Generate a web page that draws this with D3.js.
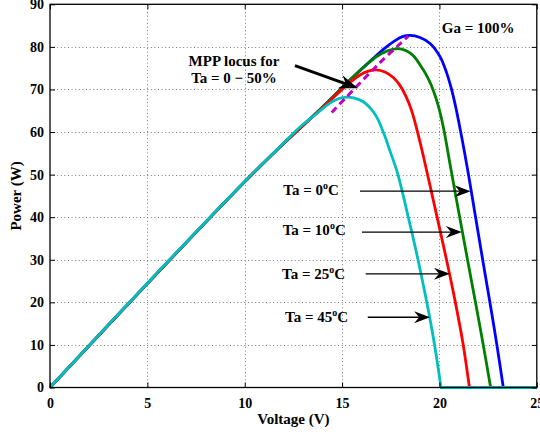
<!DOCTYPE html>
<html>
<head>
<meta charset="utf-8">
<script src="https://cdn.jsdelivr.net/npm/d3@7"></script>
<style>
  body { margin: 0; background: #fff; }
  svg { display: block; font-family: "Liberation Serif", "Times New Roman", serif; font-weight: bold; }
</style>
</head>
<body>
<div id="chart"></div>
<script>
// P-V curves, one pair of arrays per ambient temperature
var ta0V  = [0, 5, 10, 12, 14, 15.4, 16.6, 17.2, 17.7, 18.1, 18.49, 19.0, 19.52, 20.03, 20.37, 20.63, 20.83, 21.0, 21.2, 21.4, 21.62, 21.82, 22.22, 22.6, 22.95, 23.28];
var ta0P  = [0, 24.4, 48.3, 57.3, 65.9, 72.2, 77.3, 79.7, 81.4, 82.4, 82.7, 82.2, 80.8, 77.7, 73.9, 69.9, 66.0, 62.2, 57.4, 52.4, 46.5, 41.0, 30.0, 19.8, 10.0, 0];

var ta10V = [0, 5, 10, 12, 14, 15.4, 16.2, 16.8, 17.3, 17.85, 18.3, 18.66, 19.17, 19.45, 19.7, 19.95, 20.2, 20.6, 21.0, 21.43, 21.85, 22.25, 22.63];
var ta10P = [0, 24.4, 48.3, 57.3, 65.9, 72.2, 75.6, 77.8, 79.0, 79.6, 79.1, 77.9, 74.6, 72.3, 69.6, 66.0, 61.2, 51.0, 41.0, 30.3, 20.0, 10.0, 0];

var ta25V = [0, 5, 10, 12, 14, 14.9, 15.5, 15.92, 16.35, 16.75, 17.2, 17.63, 17.98, 18.3, 18.58, 18.83, 19.1, 19.35, 19.85, 20.35, 20.8, 21.2, 21.54];
var ta25P = [0, 24.45, 48.35, 57.35, 65.7, 69.6, 72.0, 73.4, 74.3, 74.6, 74.1, 72.8, 70.9, 68.2, 64.9, 60.8, 55.8, 50.8, 40.6, 30.3, 20.4, 10.6, 0];

var ta45V = [0, 5, 10, 12, 12.84, 13.5, 14.0, 14.55, 15.0, 15.24, 15.6, 16.09, 16.45, 16.78, 17.2, 17.38, 17.85, 18.4, 18.9, 19.35, 19.75, 20.08];
var ta45P = [0, 24.5, 48.4, 57.4, 61.2, 63.6, 65.5, 67.3, 68.1, 68.2, 68.0, 67.1, 65.6, 63.5, 59.0, 56.6, 50.3, 40, 30, 20, 10, 0];

// maximum power point locus (dashed)
var mppV = [14.47, 16.95, 18.4];
var mppP = [64.6, 76.3, 82.5];

var xTicks = [0, 5, 10, 15, 20, 25];
var yTicks = [0, 10, 20, 30, 40, 50, 60, 70, 80, 90];

var curves = [
  { v: ta0V,  p: ta0P,  color: "#0000ff" },
  { v: ta10V, p: ta10P, color: "#008000" },
  { v: ta25V, p: ta25P, color: "#ff0000" },
  { v: ta45V, p: ta45P, color: "#00bfbf" }
];

var width = 540, height = 432;
var margin = {top: 4.3, right: 3.2, bottom: 44.5, left: 50};

var svg = d3.select("#chart").append("svg")
    .attr("width", width)
    .attr("height", height);

var x = d3.scaleLinear().domain([0, 25]).range([margin.left, width - margin.right]);
var y = d3.scaleLinear().domain([0, 90]).range([height - margin.bottom, margin.top]);

var x0 = x.range()[0], x1 = x.range()[1], y0 = y.range()[0], y1 = y.range()[1];

// dotted grid
var grid = svg.append("g").attr("class", "grid")
    .attr("stroke", "#7a7a7a").attr("stroke-width", 1).attr("stroke-dasharray", "1,2.6");
grid.selectAll("line.gx").data(xTicks.slice(1, -1)).enter().append("line")
    .attr("x1", function(d) { return Math.round(x(d)) + 0.5; })
    .attr("x2", function(d) { return Math.round(x(d)) + 0.5; })
    .attr("y1", y0).attr("y2", y1);
grid.selectAll("line.gy").data(yTicks.slice(1, -1)).enter().append("line")
    .attr("y1", function(d) { return Math.round(y(d)) + 0.5; })
    .attr("y2", function(d) { return Math.round(y(d)) + 0.5; })
    .attr("x1", x0).attr("x2", x1);

// curves
var line = d3.line()
    .x(function(d) { return x(d[0]); })
    .y(function(d) { return y(d[1]); })
    .curve(d3.curveCatmullRom.alpha(0.5));

curves.forEach(function(c) {
  var pts = c.v.map(function(v, i) { return [v, c.p[i]]; });
  svg.append("path")
      .attr("d", line(pts) + "L" + x(25) + "," + y(0))
      .attr("fill", "none")
      .attr("stroke", c.color)
      .attr("stroke-width", 2.8)
      .attr("stroke-linejoin", "round");
});

// MPP locus
svg.append("path")
    .attr("d", line(mppV.map(function(v, i) { return [v, mppP[i]]; })))
    .attr("fill", "none")
    .attr("stroke", "#bf00bf")
    .attr("stroke-width", 3)
    .attr("stroke-dasharray", "7,4.5");

// axes: MATLAB style box with inward ticks
function styleAxis(g) {
  g.select(".domain").remove();
  g.selectAll(".tick line").attr("stroke", "#000");
  g.selectAll(".tick text").attr("fill", "#000").style("font-size", "14px")
    .style("font-family", "Liberation Serif").style("font-weight", "bold");
}
svg.append("g").attr("transform", "translate(0," + y0 + ")")
    .call(d3.axisBottom(x).tickValues(xTicks).tickSize(-5).tickPadding(11).tickFormat(d3.format("d")))
    .call(styleAxis);
svg.append("g").attr("transform", "translate(0," + y1 + ")")
    .call(d3.axisTop(x).tickValues(xTicks).tickSize(-5).tickFormat(""))
    .call(styleAxis);
svg.append("g").attr("transform", "translate(" + x0 + ",0)")
    .call(d3.axisLeft(y).tickValues(yTicks).tickSize(-5).tickPadding(6).tickFormat(d3.format("d")))
    .call(styleAxis);
svg.append("g").attr("transform", "translate(" + x1 + ",0)")
    .call(d3.axisRight(y).tickValues(yTicks).tickSize(-5).tickFormat(""))
    .call(styleAxis);

svg.append("rect")
    .attr("x", x0).attr("y", y1)
    .attr("width", x1 - x0).attr("height", y0 - y1)
    .attr("fill", "none").attr("stroke", "#000").attr("stroke-width", 1.3);

// axis titles
svg.append("text")
    .attr("x", (x0 + x1) / 2).attr("y", 424)
    .attr("text-anchor", "middle").style("font-size", "15px")
    .text("Voltage (V)");
svg.append("text")
    .attr("transform", "translate(21," + ((y0 + y1) / 2) + ") rotate(-90)")
    .attr("text-anchor", "middle").style("font-size", "15px")
    .text("Power (W)");

// annotations
function arrow(from, to, lw, L, W) {
  var ax = x(from[0]), ay = y(from[1]), bx = x(to[0]), by = y(to[1]);
  var ang = Math.atan2(by - ay, bx - ax);
  var cos = Math.cos(ang), sin = Math.sin(ang);
  function pt(u, v) { return [bx + u * cos - v * sin, by + u * sin + v * cos]; }
  var notch = pt(-0.68 * L, 0);
  svg.append("line")
      .attr("x1", ax).attr("y1", ay).attr("x2", notch[0]).attr("y2", notch[1])
      .attr("stroke", "#000").attr("stroke-width", lw);
  svg.append("path")
      .attr("d", "M" + [pt(0, 0), pt(-L, -W / 2), notch, pt(-L, W / 2)].join("L") + "Z")
      .attr("fill", "#000");
}

svg.append("text").attr("x", x(20.12)).attr("y", y(83.2))
    .style("font-size", "15px").text("Ga = 100%");

var mppText = svg.append("text").attr("text-anchor", "middle").style("font-size", "15px");
mppText.append("tspan").attr("x", x(9.45)).attr("y", y(75.5)).text("MPP locus for");
mppText.append("tspan").attr("x", x(9.45)).attr("y", y(71.4)).text("Ta = 0 \u2212 50%");
arrow([12.58, 75.6], [15.82, 70.3], 3, 19, 14);

var taLabels = [
  { t: "0",  tx: 11.98, ty: 45.2, from: [15.92, 46.1], to: [21.6, 46.1] },
  { t: "10", tx: 11.95, ty: 35.8, from: [16.02, 36.5], to: [21.15, 36.5] },
  { t: "25", tx: 11.92, ty: 25.6, from: [16.21, 26.7], to: [20.54, 26.7] },
  { t: "45", tx: 12.07, ty: 15.4, from: [16.32, 16.5], to: [19.52, 16.5] }
];
taLabels.forEach(function(d) {
  var t = svg.append("text").attr("x", x(d.tx)).attr("y", y(d.ty)).style("font-size", "15px");
  t.append("tspan").text("Ta = " + d.t);
  t.append("tspan").attr("dy", -6).style("font-size", "10px").text("o");
  t.append("tspan").attr("dy", 6).text("C");
  arrow(d.from, d.to, 1.3, 16, 12);
});
</script>
</body>
</html>
